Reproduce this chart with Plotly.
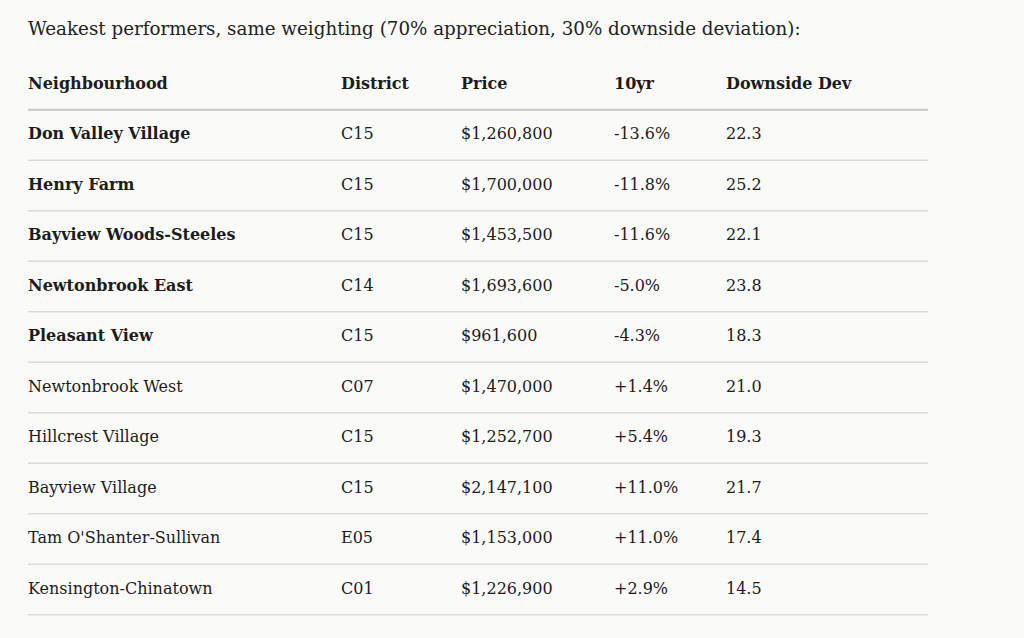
import plotly.graph_objects as go

# ---- data ----
title_text = "Weakest performers, same weighting (70% appreciation, 30% downside deviation):"
headers = ["Neighbourhood", "District", "Price", "10yr", "Downside Dev"]
neighbourhoods = ["Don Valley Village", "Henry Farm", "Bayview Woods-Steeles", "Newtonbrook East",
                  "Pleasant View", "Newtonbrook West", "Hillcrest Village", "Bayview Village",
                  "Tam O'Shanter-Sullivan", "Kensington-Chinatown"]
districts = ["C15", "C15", "C15", "C14", "C15", "C07", "C15", "C15", "E05", "C01"]
prices = ["$1,260,800", "$1,700,000", "$1,453,500", "$1,693,600", "$961,600",
          "$1,470,000", "$1,252,700", "$2,147,100", "$1,153,000", "$1,226,900"]
ten_yr = ["-13.6%", "-11.8%", "-11.6%", "-5.0%", "-4.3%", "+1.4%", "+5.4%", "+11.0%", "+11.0%", "+2.9%"]
downside_dev = ["22.3", "25.2", "22.1", "23.8", "18.3", "21.0", "19.3", "21.7", "17.4", "14.5"]
bold_rows = 5  # first five neighbourhoods shown in bold

# ---- layout constants ----
W, H = 1024, 638
LEFT = 28
COL_WIDTHS = [313, 120, 153, 112, 202]
ROW_PITCH = 50.5
HEADER_CENTER = 85
BG = "#fafaf8"
INK = "#1c1c1c"
FONT = "DejaVu Serif"
FS = 16

col_x = [LEFT]
for w in COL_WIDTHS[:-1]:
    col_x.append(col_x[-1] + w)
right_edge = LEFT + sum(COL_WIDTHS)

columns = [neighbourhoods, districts, prices, ten_yr, downside_dev]
n = len(neighbourhoods)

fig = go.Figure()

# separator lines
sep_y = [k + 0.5 for k in range(n + 1)]
for i, yv in enumerate(sep_y):
    fig.add_trace(go.Scatter(
        x=[LEFT, right_edge], y=[yv, yv], mode="lines",
        line=dict(color="#c6c6c6" if i == 0 else "#dadada", width=2 if i == 0 else 1.3),
        hoverinfo="skip", showlegend=False))

# header
fig.add_trace(go.Scatter(
    x=col_x, y=[0] * len(headers), text=[f"<b>{h}</b>" for h in headers],
    mode="text", textposition="middle right",
    textfont=dict(family=FONT, size=FS, color=INK),
    hoverinfo="skip", showlegend=False))

# body
rows = list(range(1, n + 1))
for ci, col in enumerate(columns):
    texts = []
    for ri, v in enumerate(col):
        if ci == 0 and ri < bold_rows:
            texts.append(f"<b>{v}</b>")
        else:
            texts.append(v)
    fig.add_trace(go.Scatter(
        x=[col_x[ci]] * n, y=rows, text=texts,
        mode="text", textposition="middle right",
        textfont=dict(family=FONT, size=FS, color=INK),
        hoverinfo="skip", showlegend=False))

y_top = -(HEADER_CENTER - 0.5) / ROW_PITCH
y_bot = (H - HEADER_CENTER + 0.5) / ROW_PITCH

fig.update_layout(
    width=W, height=H,
    margin=dict(l=0, r=0, t=0, b=0),
    paper_bgcolor=BG, plot_bgcolor=BG,
    xaxis=dict(range=[0, W], visible=False, fixedrange=True),
    yaxis=dict(range=[y_bot, y_top], visible=False, fixedrange=True),
    title=dict(text=title_text, x=LEFT / W, xanchor="left", y=1 - 29 / H, yanchor="middle",
               font=dict(family=FONT, size=18.3, color="#222222")),
)

fig.write_html(
    "out.html",
    config={"displayModeBar": False},
    post_script="document.body.style.margin='0';document.body.style.background='#fafaf8';",
)
